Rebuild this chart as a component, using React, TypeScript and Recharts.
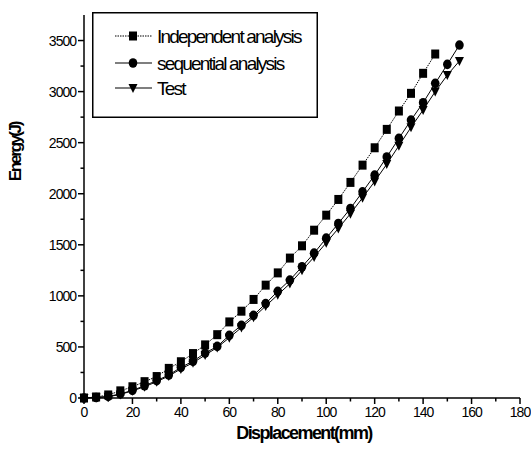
import React from 'react';
import { LineChart, Line, XAxis, YAxis, Legend } from 'recharts';

// displacement steps (mm)
const displacement = [
  0, 5, 10, 15, 20, 25, 30, 35, 40, 45, 50, 55, 60, 65, 70, 75,
  80, 85, 90, 95, 100, 105, 110, 115, 120, 125, 130, 135, 140, 145, 150, 155,
];

// energy (J) per displacement step
const independentEnergy = [
  0, 10, 30, 70, 110, 160, 210, 290, 355, 435, 520, 620, 745, 850, 965,
  1105, 1225, 1370, 1490, 1643, 1790, 1944, 2111, 2280, 2450, 2630, 2810,
  2983, 3179, 3368,
];
const sequentialEnergy = [
  0, 5, 15, 40, 75, 120, 170, 225, 300, 360, 440, 505, 614, 712, 810, 925,
  1045, 1155, 1285, 1418, 1565, 1709, 1856, 2019, 2182, 2360, 2542, 2721,
  2891, 3081, 3267, 3456,
];
const testEnergy = [
  0, 5, 12, 35, 70, 110, 160, 215, 285, 345, 420, 495, 590, 690, 790, 900,
  1010, 1120, 1250, 1380, 1520, 1660, 1805, 1960, 2120, 2290, 2470, 2650,
  2820, 3000, 3162, 3300,
];

const xTicks = [0, 10, 20, 30, 40, 50, 60, 70, 80, 90, 100, 110, 120, 130, 140, 150, 160, 170, 180];
const yTicks = [0, 250, 500, 750, 1000, 1250, 1500, 1750, 2000, 2250, 2500, 2750, 3000, 3250, 3500];

const toPoints = (ys: number[]) => ys.map((y, i) => ({ x: displacement[i], y }));

const FONT = 'Arial, "Liberation Sans", sans-serif';

type Marker = 'square' | 'circle' | 'triangle';

const drawMarker = (kind: Marker, cx: number, cy: number, key?: React.Key) => {
  if (kind === 'square') {
    return <rect key={key} x={cx - 4} y={cy - 4.5} width={8} height={9} fill="#000" />;
  }
  if (kind === 'circle') {
    return <ellipse key={key} cx={cx} cy={cy} rx={4.3} ry={4.8} fill="#000" />;
  }
  return (
    <path key={key} d={`M${cx - 4.5},${cy - 4} L${cx + 4.5},${cy - 4} L${cx},${cy + 5} Z`} fill="#000" />
  );
};

const series = [
  { name: 'Independent analysis', data: toPoints(independentEnergy), marker: 'square' as Marker, dash: '1.5 1' },
  { name: 'sequential analysis', data: toPoints(sequentialEnergy), marker: 'circle' as Marker, dash: undefined },
  { name: 'Test', data: toPoints(testEnergy), marker: 'triangle' as Marker, dash: undefined },
];

const XTick = ({ x, y, payload }: any) => {
  const major = payload.value % 20 === 0;
  return (
    <g>
      <line x1={x} y1={y} x2={x} y2={y + (major ? 6 : 3.5)} stroke="#000" strokeWidth={1.5} />
      {major && (
        <text x={x} y={y + 19} textAnchor="middle" fontSize={14} letterSpacing={-1} fill="#000" fontFamily={FONT}>
          {payload.value}
        </text>
      )}
    </g>
  );
};

const YTick = ({ x, y, payload }: any) => {
  const major = payload.value % 500 === 0;
  return (
    <g>
      <line x1={x - (major ? 6 : 3.5)} y1={y} x2={x} y2={y} stroke="#000" strokeWidth={1.5} />
      {major && (
        <text x={x - 8} y={y + 5} textAnchor="end" fontSize={14} letterSpacing={-1} fill="#000" fontFamily={FONT}>
          {payload.value}
        </text>
      )}
    </g>
  );
};

const LegendBox = () => (
  <svg width={226} height={106} style={{ display: 'block' }}>
    <rect x={0.75} y={0.75} width={224.5} height={104.5} fill="#fff" stroke="#000" strokeWidth={1.5} />
    {series.map((s, i) => {
      const cy = [24, 51, 76][i];
      return (
        <g key={s.name}>
          <line x1={23} y1={cy} x2={60} y2={cy} stroke="#000" strokeWidth={1.2} strokeDasharray={s.dash} />
          {drawMarker(s.marker, 41, cy)}
          <text x={65} y={cy + 7} fontSize={19} letterSpacing={-1.8} fill="#000" fontFamily={FONT}>
            {s.name}
          </text>
        </g>
      );
    })}
  </svg>
);

export default function App() {
  return (
    <div style={{ position: 'absolute', left: 0, top: 0, background: '#fff' }}>
      <LineChart width={531} height={464} margin={{ top: 15, right: 11, bottom: 36, left: 34 }}>
        <XAxis
          dataKey="x"
          type="number"
          domain={[0, 180]}
          ticks={xTicks}
          interval={0}
          height={30}
          tickSize={0}
          tickMargin={0}
          tickLine={false}
          tick={<XTick />}
          axisLine={{ stroke: '#000', strokeWidth: 1.5 }}
          label={{
            content: ({ viewBox }: any) => (
              <text
                x={viewBox.x + viewBox.width / 2 + 2}
                y={viewBox.y + 41}
                textAnchor="middle"
                fontSize={18}
                fontWeight="bold"
                letterSpacing={-1.6}
                fill="#000"
                fontFamily={FONT}
              >
                Displacement(mm)
              </text>
            ),
          }}
        />
        <YAxis
          dataKey="y"
          type="number"
          domain={[0, 3750]}
          ticks={yTicks}
          interval={0}
          width={50}
          tickSize={0}
          tickMargin={0}
          tickLine={false}
          tick={<YTick />}
          axisLine={{ stroke: '#000', strokeWidth: 1.5 }}
          label={{
            content: () => (
              <text
                x={15}
                y={152}
                transform="rotate(-90 15 152)"
                textAnchor="middle"
                dominantBaseline="central"
                fontSize={17}
                fontWeight="bold"
                letterSpacing={-2.2}
                fill="#000"
                fontFamily={FONT}
              >
                Energy(J)
              </text>
            ),
          }}
        />
        <Legend
          layout="vertical"
          align="center"
          verticalAlign="middle"
          content={() => <LegendBox />}
          wrapperStyle={{ left: 92, top: 12, width: 226, height: 106 }}
        />
        {series.map((s) => (
          <Line
            key={s.name}
            data={s.data}
            dataKey="y"
            name={s.name}
            type="linear"
            stroke="#000"
            strokeWidth={1}
            strokeDasharray={s.dash}
            dot={(p: any) => drawMarker(s.marker, p.cx, p.cy, p.index)}
            activeDot={false}
            isAnimationActive={false}
          />
        ))}
      </LineChart>
    </div>
  );
}
